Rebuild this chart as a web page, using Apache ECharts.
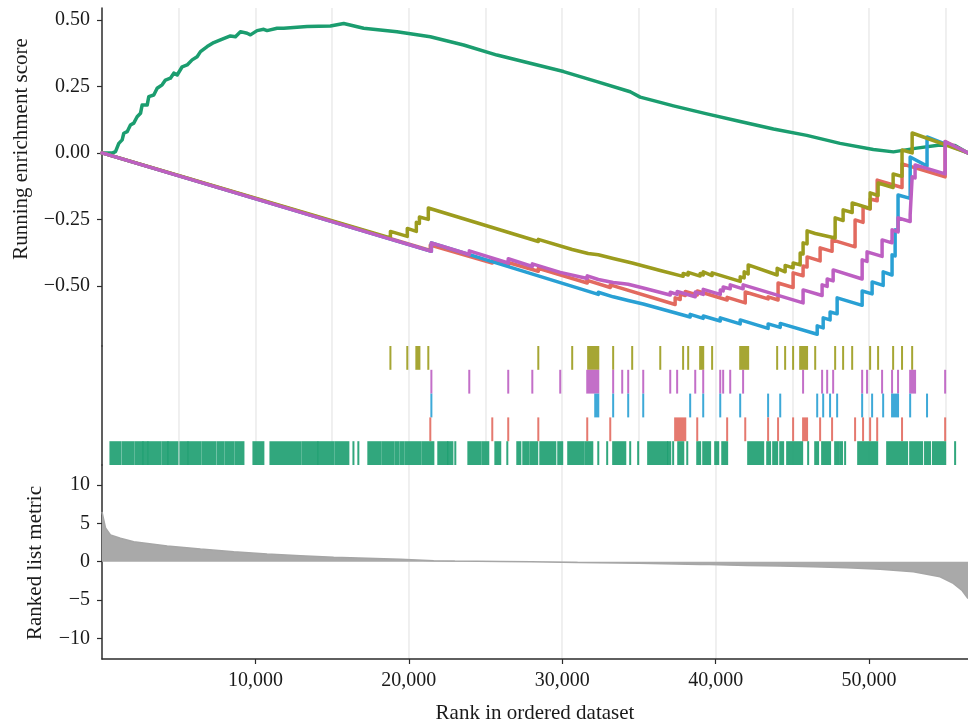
<!DOCTYPE html>
<html>
<head>
<meta charset="utf-8">
<script src="https://cdn.jsdelivr.net/npm/echarts@6/dist/echarts.min.js"></script>
<style>
  html, body { margin: 0; padding: 0; background: #ffffff; }
  #chart { width: 968px; height: 727px; }
</style>
</head>
<body>
<div id="chart"></div>
<script>
// ---- data -------------------------------------------------------------
const rankMax = 56450;
const rankTicks = [10000, 20000, 30000, 40000, 50000];
const esTicks = [-0.5, -0.25, 0, 0.25, 0.5];
const metricTicks = [-10, -5, 0, 5, 10];

// running enrichment score, [rank, score]; repeated ranks are hit steps
const esGreen = [[0,0],[700,0],[880,0.005],[1095,0.036],[1315,0.049],[1420,0.074],[1640,0.080],
  [1855,0.105],[2070,0.112],[2290,0.136],[2510,0.149],[2615,0.180],[2945,0.180],[3050,0.212],
  [3375,0.218],[3595,0.243],[3920,0.256],[4135,0.274],[4460,0.281],[4680,0.300],[4900,0.293],
  [5225,0.324],[5550,0.331],[5875,0.350],[6200,0.362],[6420,0.381],[6855,0.400],[7285,0.415],
  [7720,0.425],[8370,0.440],[8700,0.437],[9025,0.456],[9460,0.450],[9675,0.444],[10110,0.460],
  [10540,0.465],[10760,0.460],[11410,0.469],[11845,0.469],[13370,0.475],[14890,0.477],[15755,0.487],
  [17055,0.469],[19230,0.456],[21400,0.437],[23570,0.406],[25745,0.368],[27915,0.337],[30085,0.306],
  [32260,0.268],[34430,0.230],[35080,0.210],[36390,0.190],[37250,0.177],[39430,0.147],[41600,0.118],
  [43770,0.090],[45940,0.066],[48110,0.036],[50280,0.013],[51590,0.004],[53110,0.018],[54625,0.030],
  [55600,0.028],[56450,0]];

const esOlive = [[0,0],[18800,-0.320],[18800,-0.295],[19900,-0.314],[19900,-0.284],[20490,-0.295],
  [20490,-0.261],[20690,-0.265],[20690,-0.241],[21270,-0.250],[21270,-0.207],[28440,-0.333],
  [28440,-0.325],[30650,-0.363],[30650,-0.359],[31690,-0.378],[31690,-0.372],[32350,-0.383],
  [32350,-0.380],[33320,-0.397],[33320,-0.393],[34560,-0.414],[34560,-0.410],[36390,-0.442],
  [36390,-0.438],[37880,-0.464],[37880,-0.453],[38210,-0.459],[38210,-0.449],[38990,-0.463],
  [38990,-0.453],[39190,-0.459],[39190,-0.447],[39770,-0.461],[39770,-0.451],[41600,-0.483],
  [41600,-0.466],[41860,-0.470],[41860,-0.447],[42120,-0.455],[42120,-0.421],[44010,-0.459],
  [44010,-0.434],[44530,-0.447],[44530,-0.423],[45050,-0.432],[45050,-0.414],[45510,-0.421],
  [45510,-0.376],[45700,-0.380],[45700,-0.338],[45960,-0.342],[45960,-0.293],[46490,-0.303],
  [46490,-0.297],[47790,-0.320],[47790,-0.244],[48310,-0.254],[48310,-0.214],[48900,-0.224],
  [48900,-0.188],[50070,-0.209],[50070,-0.150],[50590,-0.160],[50590,-0.113],[51570,-0.130],
  [51570,-0.079],[52150,-0.088],[52150,0.011],[52810,0.000],[52810,0.075],[56450,0]];

const esMagenta = [[0,0],[21470,-0.370],[21470,-0.338],[23940,-0.382],[23940,-0.368],[26480,-0.414],
  [26480,-0.398],[28050,-0.427],[28050,-0.417],[29870,-0.449],[29870,-0.442],[31630,-0.472],
  [31630,-0.462],[32350,-0.476],[32350,-0.470],[33320,-0.487],[33320,-0.481],[33910,-0.491],
  [33910,-0.487],[34300,-0.494],[34300,-0.491],[35280,-0.508],[35280,-0.504],[37040,-0.534],
  [37040,-0.524],[37490,-0.532],[37490,-0.521],[38670,-0.541],[38670,-0.523],[39190,-0.532],
  [39190,-0.513],[40300,-0.532],[40300,-0.515],[40490,-0.519],[40490,-0.504],[40950,-0.511],
  [40950,-0.496],[41790,-0.511],[41790,-0.496],[45700,-0.564],[45700,-0.515],[46940,-0.536],
  [46940,-0.496],[47270,-0.502],[47270,-0.474],[47660,-0.481],[47660,-0.440],[49550,-0.474],
  [49550,-0.402],[49870,-0.408],[49870,-0.372],[50850,-0.389],[50850,-0.327],[51500,-0.338],
  [51500,-0.289],[51890,-0.297],[51890,-0.244],[52680,-0.258],[52680,-0.233],[52810,-0.235],
  [52810,-0.090],[53000,-0.094],[53000,-0.045],[54960,-0.079],[54960,0.043],[56450,0]];

const esBlue = [[0,0],[21470,-0.370],[21470,-0.338],[32350,-0.532],[32350,-0.524],[33320,-0.541],
  [33320,-0.538],[34300,-0.555],[34300,-0.551],[35280,-0.568],[35280,-0.564],[38340,-0.617],
  [38340,-0.607],[39190,-0.622],[39190,-0.613],[40300,-0.632],[40300,-0.620],[41600,-0.643],
  [41600,-0.628],[43420,-0.660],[43420,-0.643],[44210,-0.656],[44210,-0.641],[46620,-0.682],
  [46620,-0.650],[47010,-0.658],[47010,-0.620],[47460,-0.628],[47460,-0.598],[47920,-0.605],
  [47920,-0.545],[49550,-0.573],[49550,-0.519],[50200,-0.530],[50200,-0.485],[50920,-0.498],
  [50920,-0.447],[51500,-0.459],[51500,-0.383],[51700,-0.387],[51700,-0.289],[51890,-0.293],
  [51890,-0.158],[52680,-0.171],[52680,-0.015],[53780,-0.049],[53780,0.060],[56450,0]];

const esRed = [[0,0],[21400,-0.367],[21400,-0.346],[25440,-0.414],[25440,-0.404],[26480,-0.423],
  [26480,-0.412],[28440,-0.445],[28440,-0.434],[31630,-0.489],[31630,-0.479],[33130,-0.506],
  [33130,-0.496],[37360,-0.570],[37360,-0.545],[37690,-0.551],[37690,-0.530],[38020,-0.536],
  [38020,-0.521],[38800,-0.534],[38800,-0.519],[40750,-0.553],[40750,-0.543],[41930,-0.564],
  [41930,-0.523],[43420,-0.549],[43420,-0.541],[44070,-0.553],[44070,-0.489],[45050,-0.506],
  [45050,-0.451],[45700,-0.462],[45700,-0.425],[45960,-0.429],[45960,-0.391],[46810,-0.406],
  [46810,-0.357],[47590,-0.370],[47590,-0.327],[49090,-0.353],[49090,-0.252],[49610,-0.261],
  [49610,-0.203],[50070,-0.211],[50070,-0.173],[50530,-0.180],[50530,-0.102],[52150,-0.130],
  [52150,-0.041],[54960,-0.090],[54960,0.043],[56450,0]];

// gene-set hits as [fromRank, toRank] runs
const hitsOlive = [[18800,18800],[19900,19900],[20490,20690],[21270,21270],[28440,28440],[30650,30650],
  [31690,32350],[33320,33320],[34560,34560],[36390,36390],[37880,37880],[38210,38210],[38990,39190],
  [39770,39770],[41600,42120],[44010,44010],[44530,44530],[45050,45050],[45510,45960],[46490,46490],
  [47790,47790],[48310,48310],[48900,48900],[50070,50070],[50590,50590],[51570,51570],[52150,52150],
  [52810,52810]];
const hitsMagenta = [[21470,21470],[23940,23940],[26480,26480],[28050,28050],[29870,29870],[31630,32350],
  [33320,33320],[33910,33910],[34300,34300],[35280,35280],[37040,37040],[37490,37490],[38670,38670],
  [39190,39190],[40300,40300],[40490,40490],[40950,40950],[41790,41790],[45700,45700],[46940,46940],
  [47270,47270],[47660,47660],[49550,49550],[49870,49870],[50850,50850],[51500,51500],[51890,51890],
  [52680,53000],[54960,54960]];
const hitsBlue = [[21470,21470],[32150,32350],[33320,33320],[34300,34300],[35280,35280],[38340,38340],
  [39190,39190],[40300,40300],[41600,41600],[43420,43420],[44210,44210],[46620,46620],[47010,47010],
  [47460,47460],[47920,47920],[49550,49550],[50200,50200],[50920,50920],[51500,51890],[52680,52680],
  [53780,53780]];
const hitsRed = [[21400,21400],[25440,25440],[26480,26480],[28440,28440],[31630,31630],[33130,33130],
  [37360,38020],[38800,38800],[40750,40750],[41930,41930],[43420,43420],[44070,44070],[45050,45050],
  [45700,45960],[46810,46810],[47590,47590],[49090,49090],[49610,49610],[50070,50070],[50530,50530],
  [52150,52150],[54960,54960]];
const hitsGreen = [[550,1200],[1340,2050],[2180,2640],[2700,2960],[3030,3810],[3940,4270],[4330,4920],
  [5110,5570],[5640,6420],[6550,7390],[7530,7920],[8050,8570],[8700,9220],[9870,10520],[10980,12930],
  [13060,14040],[14110,15080],[15210,16060],[16390,16390],[16710,16710],[17360,18140],[18270,18990],
  [19120,19320],[19450,19640],[19770,20750],[20880,21600],[21920,22510],[22570,22840],[23030,23030],
  [23880,24660],[24790,25180],[25640,25960],[26420,26420],[27070,27270],[27460,27790],[27920,28370],
  [28570,29550],[29740,30000],[30390,31370],[31500,31960],[32350,32350],[32930,32930],[33320,34110],
  [34430,34430],[34950,34950],[35600,36840],[36910,37040],[37230,37230],[37560,37890],[38150,38150],
  [38800,38990],[39190,39640],[39970,40170],[40430,40750],[42120,43100],[43360,43550],[43750,44010],
  [44210,44400],[44660,45640],[46030,46030],[46490,46680],[46940,47460],[47790,47980],[48110,48240],
  [48440,48440],[49290,50530],[51180,52480],[52680,53460],[53650,53980],[54170,54960],[55610,55610]];

// ranked list metric, [rank, value]
const rankMetric = [[0,6.5],[80,6.3],[230,4.4],[550,3.5],[1200,3.05],[2070,2.6],[4250,2.05],
  [6420,1.66],[8590,1.31],[10760,1.0],[12930,0.78],[15100,0.57],[17280,0.44],[19450,0.31],
  [21620,0.13],[23000,0.08],[26000,0.03],[28000,0.0],[31000,-0.1],[35000,-0.2],[39000,-0.35],
  [42040,-0.5],[44200,-0.56],[46360,-0.65],[48550,-0.78],[50720,-0.99],[52890,-1.31],[54630,-1.96],
  [55490,-2.82],[56040,-3.7],[56450,-4.8]];

// ---- styling ------------------------------------------------------------
const FONT = '"Liberation Serif", "DejaVu Serif", serif';
const INK = '#1a1a1a';
const AXIS = '#2b2b2b';
const GRIDLINE = '#ececec';
const COLORS = {
  green: '#1b9d6f',
  olive: '#9c9c1e',
  magenta: '#bd5fc2',
  blue: '#29a0d4',
  red: '#e26a5f'
};

const minus = s => String(s).replace('-', '\u2212');

function xAxisFor(gridIndex, showLabels) {
  return {
    type: 'value', gridIndex, min: 0, max: rankMax,
    interval: 5000,
    axisLine: { show: showLabels, onZero: false, lineStyle: { color: AXIS, width: 1.5 } },
    axisTick: showLabels
      ? { show: true, customValues: rankTicks, length: 5, lineStyle: { color: AXIS, width: 1.2 } }
      : { show: false },
    axisLabel: showLabels
      ? { show: true, customValues: rankTicks, margin: 12, fontFamily: FONT, fontSize: 20, color: INK,
          formatter: v => v.toLocaleString('en-US') }
      : { show: false },
    splitLine: { show: true, showMinLine: false, showMaxLine: false,
                 lineStyle: { color: GRIDLINE, width: 1.6 } }
  };
}

// one rectangle per hit run, spanning its row of the barcode strip
function tickRender(color) {
  return function (params, api) {
    const row = api.value(2);
    const a = api.coord([api.value(0), row]);
    const b = api.coord([api.value(1), row + 1]);
    const x = Math.min(a[0], b[0]) - 1;
    const w = Math.abs(b[0] - a[0]) + 2;
    const y = Math.min(a[1], b[1]);
    const h = Math.abs(b[1] - a[1]);
    return { type: 'rect', shape: { x, y, width: w, height: h },
             style: { fill: color, opacity: 0.9 } };
  };
}

function hitSeries(name, hits, row, color) {
  return {
    name, type: 'custom', xAxisIndex: 1, yAxisIndex: 1,
    renderItem: tickRender(color),
    encode: { x: [0, 1], y: 2 },
    data: hits.map(h => [h[0], h[1], row]),
    silent: true
  };
}

function esLine(name, data, color, z) {
  return {
    name, type: 'line', xAxisIndex: 0, yAxisIndex: 0, data, z,
    showSymbol: false, symbol: 'none', animation: false,
    lineStyle: { color, width: 3.5, join: 'round', cap: 'round' }
  };
}

const option = {
  animation: false,
  backgroundColor: '#ffffff',
  grid: [
    { left: 102, right: 0, top: 8, height: 338, outerBoundsMode: 'none' },
    { left: 102, right: 0, top: 346, height: 119, outerBoundsMode: 'none' },
    { left: 102, right: 0, top: 465, height: 194, outerBoundsMode: 'none' }
  ],
  xAxis: [xAxisFor(0, false), xAxisFor(1, false), xAxisFor(2, true)],
  yAxis: [
    {
      type: 'value', gridIndex: 0, min: -0.726, max: 0.545,
      axisLine: { show: true, lineStyle: { color: AXIS, width: 1.5 } },
      axisTick: { show: true, customValues: esTicks, length: 5, lineStyle: { color: AXIS, width: 1.2 } },
      axisLabel: { show: true, customValues: esTicks, margin: 12, fontFamily: FONT, fontSize: 20,
                   color: INK, formatter: v => minus(v.toFixed(2)) },
      splitLine: { show: false }
    },
    {
      type: 'value', gridIndex: 1, min: 0, max: 5, inverse: true,
      axisLine: { show: true, lineStyle: { color: AXIS, width: 1.5 } },
      axisTick: { show: false }, axisLabel: { show: false }, splitLine: { show: false }
    },
    {
      type: 'value', gridIndex: 2, min: -12.7, max: 12.62,
      axisLine: { show: true, onZero: false, lineStyle: { color: AXIS, width: 1.5 } },
      axisTick: { show: true, customValues: metricTicks, length: 5, lineStyle: { color: AXIS, width: 1.2 } },
      axisLabel: { show: true, customValues: metricTicks, margin: 12, fontFamily: FONT, fontSize: 20,
                   color: INK, formatter: v => minus(v) },
      splitLine: { show: false }
    }
  ],
  graphic: [
    { type: 'text', x: 21, y: 149, rotation: Math.PI / 2,
      style: { text: 'Running enrichment score', font: '21px ' + FONT, fill: INK,
               textAlign: 'center', textVerticalAlign: 'middle' } },
    { type: 'text', x: 35, y: 563, rotation: Math.PI / 2,
      style: { text: 'Ranked list metric', font: '21px ' + FONT, fill: INK,
               textAlign: 'center', textVerticalAlign: 'middle' } },
    { type: 'text', x: 535, y: 713,
      style: { text: 'Rank in ordered dataset', font: '21px ' + FONT, fill: INK,
               textAlign: 'center', textVerticalAlign: 'middle' } }
  ],
  series: [
    esLine('green', esGreen, COLORS.green, 2),
    esLine('red', esRed, COLORS.red, 3),
    esLine('blue', esBlue, COLORS.blue, 4),
    esLine('olive', esOlive, COLORS.olive, 5),
    esLine('magenta', esMagenta, COLORS.magenta, 6),
    hitSeries('olive hits', hitsOlive, 0, COLORS.olive),
    hitSeries('magenta hits', hitsMagenta, 1, COLORS.magenta),
    hitSeries('blue hits', hitsBlue, 2, COLORS.blue),
    hitSeries('red hits', hitsRed, 3, COLORS.red),
    hitSeries('green hits', hitsGreen, 4, COLORS.green),
    {
      name: 'metric', type: 'line', xAxisIndex: 2, yAxisIndex: 2, data: rankMetric,
      showSymbol: false, symbol: 'none',
      lineStyle: { color: '#a6a6a6', width: 1.5 },
      areaStyle: { color: '#a9a9a9', opacity: 1 }
    }
  ]
};

const chart = echarts.init(document.getElementById('chart'), null, { renderer: 'canvas' });
chart.setOption(option);
</script>
</body>
</html>
